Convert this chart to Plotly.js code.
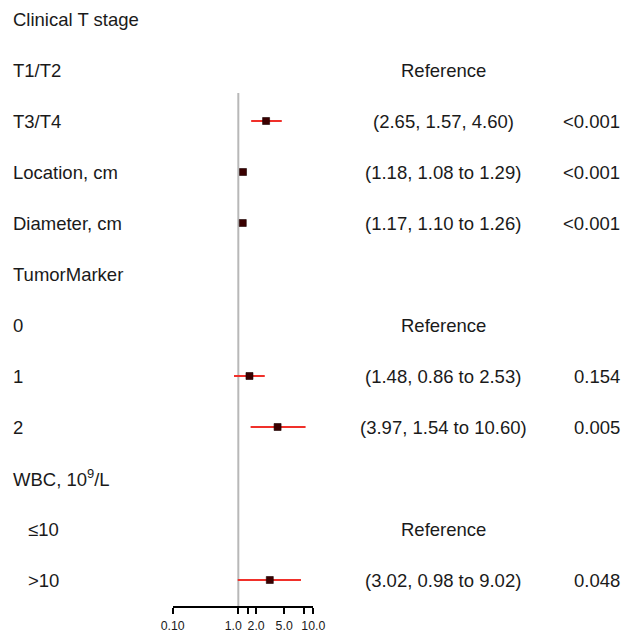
<!DOCTYPE html>
<html>
<head>
<meta charset="utf-8">
<script src="https://cdn.plot.ly/plotly-3.0.1.min.js"></script>
<style>html,body{margin:0;padding:0;background:#fff;}#chart{width:623px;height:633px;}</style>
</head>
<body>
<div id="chart"></div>
<script>
// Rows, top to bottom
const rowLabels = ["Clinical T stage", "T1/T2", "T3/T4", "Location, cm", "Diameter, cm",
  "TumorMarker", "0", "1", "2", "WBC, 10<sup>9</sup>/L", "\u226410", ">10"];
const rowIndent = [0, 0, 0, 0, 0, 0, 0, 0, 0, 0, 1, 1];
const estimate = [null, null, 2.65, 1.18, 1.17, null, null, 1.48, 3.97, null, null, 3.02];
const lower    = [null, null, 1.57, 1.08, 1.10, null, null, 0.86, 1.54, null, null, 0.98];
const upper    = [null, null, 4.60, 1.29, 1.26, null, null, 2.53, 10.60, null, null, 9.02];
const ciText = ["", "Reference", "(2.65, 1.57, 4.60)", "(1.18, 1.08 to 1.29)", "(1.17, 1.10 to 1.26)",
  "", "Reference", "(1.48, 0.86 to 2.53)", "(3.97, 1.54 to 10.60)", "", "Reference", "(3.02, 0.98 to 9.02)"];
const pText = ["", "", "<0.001", "<0.001", "<0.001", "", "", "0.154", "0.005", "", "", "0.048"];
// tick marks as drawn on the reference axis, with its labels
const tickVals = [0.1, 1, 1.42, 1.87, 5, 10, 13.9];
const tickLabels = ["0.10", "1.0\u00a0\u00a0\u00a0", "", "2.0", "5.0", "", "10.0"];

const W = 623, H = 633;
const n = rowLabels.length;
const yPos = rowLabels.map((_, i) => n - 1 - i);
const font = {family: "Liberation Sans, Arial, sans-serif", size: 18.5, color: "#1a1a1a"};

const traces = [];
// CI lines
for (let i = 0; i < n; i++) {
  if (estimate[i] === null) continue;
  traces.push({
    type: "scatter", mode: "lines", x: [lower[i], upper[i]], y: [yPos[i], yPos[i]],
    line: {color: "#f0302a", width: 2}, hoverinfo: "skip", showlegend: false
  });
}
// Point estimates
const ex = [], ey = [];
for (let i = 0; i < n; i++) { if (estimate[i] !== null) { ex.push(estimate[i]); ey.push(yPos[i]); } }
traces.push({
  type: "scatter", mode: "markers", x: ex, y: ey,
  marker: {symbol: "square", size: 7, color: "#3a0000", line: {width: 0.6, color: "#1a0000"}},
  showlegend: false
});

const annotations = [];
for (let i = 0; i < n; i++) {
  annotations.push({xref: "paper", yref: "y", x: (rowIndent[i] ? 26 : 11) / W, y: yPos[i],
    xanchor: "left", yanchor: "middle", text: rowLabels[i], showarrow: false, font: font});
  if (ciText[i]) annotations.push({xref: "paper", yref: "y", x: 443 / W, y: yPos[i],
    xanchor: "center", yanchor: "middle", text: ciText[i], showarrow: false, font: font});
  if (pText[i]) annotations.push({xref: "paper", yref: "y", x: 622 / W, y: yPos[i],
    xanchor: "right", yanchor: "middle", text: pText[i].replace("<", "&lt;"), showarrow: false, font: font});
}

const axisBottomPx = 606;
const rowPx = 51;
const yMin = (axisBottomPx - 580) / rowPx * -1; // bottom row centred at 580px
const yMax = yMin + axisBottomPx / rowPx;

const layout = {
  width: W, height: H,
  margin: {l: 0, r: 0, t: 0, b: 0},
  paper_bgcolor: "#fff", plot_bgcolor: "#fff",
  showlegend: false,
  xaxis: {
    type: "log", domain: [172.7 / W, 313.3 / W],
    range: [Math.log10(0.1), Math.log10(13.9)],
    tickmode: "array", tickvals: tickVals, ticktext: tickLabels, tickangle: 0,
    showline: true, linecolor: "#000", linewidth: 2,
    ticks: "outside", ticklen: 6, tickwidth: 2, tickcolor: "#000",
    ticklabelstandoff: 1,
    showgrid: false, zeroline: false,
    tickfont: {family: "Liberation Sans, Arial, sans-serif", size: 12.3, color: "#1a1a1a"}
  },
  yaxis: {
    domain: [(H - axisBottomPx) / H, 1],
    range: [yMin, yMax],
    visible: false, showgrid: false, zeroline: false, fixedrange: true
  },
  shapes: [{
    type: "line", xref: "x", yref: "y", x0: 1, x1: 1, y0: yMin, y1: yPos[1] - 0.45,
    line: {color: "#b8b8b8", width: 2}, layer: "below"
  }],
  annotations: annotations
};

Plotly.newPlot("chart", traces, layout, {displayModeBar: false, staticPlot: true});
</script>
</body>
</html>
